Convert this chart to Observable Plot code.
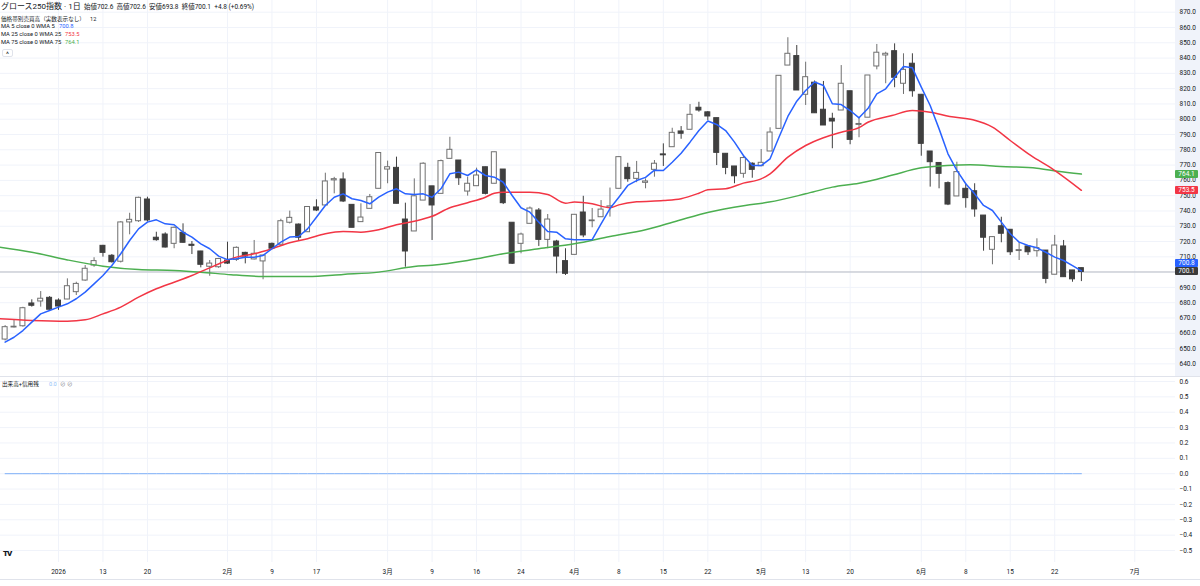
<!DOCTYPE html>
<html lang="ja">
<head>
<meta charset="utf-8">
<script src="https://cdn.jsdelivr.net/npm/d3@7"></script>
<script src="https://cdn.jsdelivr.net/npm/@observablehq/plot@0.6"></script>
<style>
  html,body{margin:0;padding:0;background:#fff;}
  body{font-family:Roboto,"Noto Sans CJK JP","Noto Sans",sans-serif;color:#131722;}
  #wrap{position:relative;width:1200px;height:586px;overflow:hidden;background:#fff;}
  #top{position:absolute;left:0;top:0;width:1200px;height:376px;overflow:hidden;background:linear-gradient(to right,#ffffff 1175px,#f0f3fa 1175px);}
  #sep{position:absolute;left:0;top:376px;width:1200px;height:1px;background:#e0e3eb;}
  #bottom{position:absolute;left:0;top:377px;width:1200px;height:209px;overflow:hidden;}
  #tline{position:absolute;left:0;top:579px;width:1200px;height:1px;background:#e0e3eb;}
  .t{position:absolute;white-space:pre;line-height:1;}
  .box{position:absolute;left:1175px;width:23px;height:8px;line-height:8px;font-size:6.5px;color:#fff;text-align:center;border-radius:1px;}
</style>
</head>
<body>
<div id="wrap">
  <div id="top"></div>
  <div id="sep"></div>
  <div id="bottom"></div>
  <div id="tline"></div>
  <div id="overlay"></div>
</div>
<script>
// ---- data ----
const dates = [
  "2025-12-23","2025-12-24","2025-12-25","2025-12-26","2025-12-29","2025-12-30",
  "2026-01-05","2026-01-06","2026-01-07","2026-01-08","2026-01-09","2026-01-13","2026-01-14","2026-01-15","2026-01-16","2026-01-19","2026-01-20","2026-01-21","2026-01-22","2026-01-23","2026-01-26","2026-01-27","2026-01-28","2026-01-29","2026-01-30",
  "2026-02-02","2026-02-03","2026-02-04","2026-02-05","2026-02-06","2026-02-09","2026-02-10","2026-02-12","2026-02-13","2026-02-16","2026-02-17","2026-02-18","2026-02-19","2026-02-20","2026-02-24","2026-02-25","2026-02-26","2026-02-27",
  "2026-03-02","2026-03-03","2026-03-04","2026-03-05","2026-03-06","2026-03-09","2026-03-10","2026-03-11","2026-03-12","2026-03-13","2026-03-16","2026-03-17","2026-03-18","2026-03-19","2026-03-23","2026-03-24","2026-03-25","2026-03-26","2026-03-27","2026-03-30","2026-03-31",
  "2026-04-01","2026-04-02","2026-04-03","2026-04-06","2026-04-07","2026-04-08","2026-04-09","2026-04-10","2026-04-13","2026-04-14","2026-04-15","2026-04-16","2026-04-17","2026-04-20","2026-04-21","2026-04-22","2026-04-23","2026-04-24","2026-04-27","2026-04-28","2026-04-30",
  "2026-05-01","2026-05-07","2026-05-08","2026-05-11","2026-05-12","2026-05-13","2026-05-14","2026-05-15","2026-05-18","2026-05-19","2026-05-20","2026-05-21","2026-05-22","2026-05-25","2026-05-26","2026-05-27","2026-05-28","2026-05-29",
  "2026-06-01","2026-06-02","2026-06-03","2026-06-04","2026-06-05","2026-06-08","2026-06-09","2026-06-10","2026-06-11","2026-06-12","2026-06-15","2026-06-16","2026-06-17","2026-06-18","2026-06-19","2026-06-22","2026-06-23","2026-06-24","2026-06-25"
];
const open = [
  655.9,663.8,664.6,679.5,680.8,683.2,
  681.4,682.1,686.9,694.5,704.3,717.2,710.7,706.8,732.5,733.3,747.5,722.5,724.6,718.5,725.7,717.9,713.5,703.5,703.2,
  707.6,708.0,712.6,708.3,707.0,718.5,717.9,732.3,731.1,726.1,742.3,743.6,760.0,760.6,744.0,732.7,741.4,754.5,
  767.1,768.2,734.4,726.6,746.8,756.1,751.2,774.1,773.0,752.7,756.2,768.6,757.8,767.1,732.3,718.5,731.6,740.3,721.1,720.0,707.2,
  711.3,739.0,733.3,735.9,742.1,754.5,768.2,761.0,758.4,766.9,777.0,781.7,792.0,793.1,807.5,804.5,800.7,777.4,769.1,764.3,770.9,
  769.3,778.9,793.7,835.1,841.3,816.0,823.9,806.2,800.3,805.7,818.3,796.3,801.0,834.5,841.7,844.5,823.2,836.3,
  816.0,778.9,771.4,758.2,749.5,754.5,752.9,737.0,714.6,730.0,727.7,713.8,716.8,713.7,714.1,698.3,716.8,701.1,702.6
];
const high = [
  665.0,668.8,677.0,681.9,687.3,684.0,
  682.5,695.6,693.4,704.3,709.4,717.5,711.5,733.0,738.5,749.0,749.0,726.1,725.7,729.5,731.6,720.0,713.6,707.6,709.0,
  719.6,716.5,713.0,720.7,711.0,719.0,734.6,739.9,731.5,742.6,747.3,764.7,762.0,764.9,744.0,744.7,750.8,777.9,
  772.6,775.2,745.1,761.0,771.5,756.1,773.3,788.2,773.0,762.1,768.0,768.6,778.4,767.1,732.3,725.5,742.6,741.6,737.7,720.8,715.3,
  737.5,749.6,741.6,746.8,755.0,775.6,771.2,772.4,761.0,773.0,783.9,794.1,795.2,809.6,811.1,805.0,800.7,777.4,769.1,775.6,771.5,
  780.2,794.4,828.4,853.3,848.2,837.3,825.0,824.7,803.9,835.1,818.3,801.0,828.6,848.9,843.8,849.3,842.8,842.8,
  816.0,778.9,771.4,759.0,771.9,757.8,757.8,737.0,723.0,735.9,727.7,719.2,717.0,721.8,714.1,724.0,720.7,701.1,702.6
];
const low = [
  655.0,663.5,664.0,677.1,677.1,674.6,
  675.0,682.0,684.7,694.0,703.2,709.8,705.9,706.0,724.4,732.5,732.7,720.2,715.8,715.3,719.0,711.5,702.8,697.3,702.5,
  705.0,707.0,705.4,708.0,695.0,715.0,717.9,731.5,720.7,726.0,739.6,743.6,751.2,745.5,729.0,732.7,741.4,754.5,
  757.8,744.7,703.2,726.6,746.8,720.7,751.2,774.1,756.7,749.7,756.2,750.5,757.8,744.2,705.0,712.0,731.6,716.8,715.3,698.9,697.8,
  711.3,722.5,729.0,735.9,736.0,754.5,758.8,758.5,754.5,762.1,769.1,781.7,786.9,793.1,804.6,799.2,769.7,763.7,757.8,761.4,761.4,
  769.0,778.9,793.7,835.1,818.8,809.0,803.9,795.9,780.7,805.7,783.3,787.9,801.0,832.3,823.2,820.6,816.2,814.4,
  775.8,755.6,754.5,743.5,749.5,741.8,735.9,713.7,704.8,719.2,710.9,707.6,710.9,709.8,692.4,698.3,696.7,693.4,693.8
];
const close = [
  664.0,664.3,676.4,678.0,682.6,675.4,
  677.5,690.8,692.3,702.2,707.2,712.6,706.5,732.5,734.2,748.6,733.8,720.9,716.1,729.0,719.2,717.2,704.8,705.6,708.6,
  705.6,715.9,710.2,712.0,710.9,715.3,733.3,735.5,722.5,742.6,740.3,759.3,760.8,746.2,729.0,735.7,749.0,777.9,
  768.6,744.7,713.5,749.6,770.9,743.6,772.6,780.0,761.4,757.8,763.2,751.2,778.4,745.1,705.5,724.6,741.6,721.1,734.4,710.2,698.9,
  737.5,724.0,733.8,740.9,743.0,775.2,760.8,764.9,759.3,770.9,776.4,791.1,790.5,802.9,805.7,801.8,778.0,768.2,762.7,774.6,766.9,
  771.5,791.3,828.4,842.8,818.8,827.5,803.9,795.9,798.5,823.2,786.5,796.9,828.6,843.5,842.8,827.1,832.3,818.3,
  783.9,771.9,764.3,744.2,765.4,748.4,741.0,722.5,722.9,725.1,713.0,714.4,713.0,715.7,695.6,717.4,696.7,695.3,700.1
];
// MA 5 (WMA) read at every session
const ma5 = [
  654.2,657.4,661.8,667.3,672.7,674.9,
  677.1,679.3,682.6,686.9,692.3,697.8,704.3,712.0,720.7,728.3,732.7,734.2,731.6,731.0,726.1,722.9,718.5,715.3,710.5,
  708.2,708.7,709.8,709.8,710.9,715.3,719.6,722.9,723.3,728.3,735.9,743.6,749.0,751.2,748.0,746.8,744.7,749.0,
  752.3,754.5,751.2,750.8,751.2,749.0,754.5,764.3,765.4,763.2,766.9,763.2,762.1,758.8,750.1,742.1,739.2,732.7,726.6,726.1,721.8,
  721.1,721.1,721.3,731.6,741.6,749.0,756.7,759.9,762.0,766.7,766.5,771.9,777.8,785.0,792.6,798.8,796.6,792.6,785.0,776.3,769.7,
  769.7,774.1,788.2,801.8,811.8,818.8,824.3,822.1,810.1,809.6,805.7,800.9,807.0,816.6,819.9,827.5,834.5,833.6,
  821.0,809.0,793.7,777.4,766.5,757.8,751.2,743.6,740.3,732.7,725.1,719.6,717.4,715.9,713.0,709.8,707.6,704.3,700.8
];
// MA 25 (WMA) read at sampled session positions
const ma25At = [-0.6,3,7,9,11,13,15,17,19,21,23,24,26,28,30,32,34,36,38,40,42,44,46,48,50,52,54,55,56,57,59,61,63,64,66,68,69,71,74,76,78,79,81,83,85,86,88,90,92,94,96,97,99.7,102,104,106.2,108.8,111,113,115.3,117.9,121];
const ma25   = [669.5,668.4,667.9,668.8,672.7,677.1,683.6,689.1,693.4,697.8,702.8,705.3,709.8,712.0,715.3,719.2,721.8,725.1,726.6,726.1,727.7,731.0,733.3,736.5,742.1,745.4,749.0,751.6,752.3,752.3,752.3,750.8,745.1,745.8,744.7,742.1,744.0,746.0,746.8,748.0,751.6,753.8,754.5,758.2,761.0,764.3,775.2,782.8,787.9,791.5,794.5,798.0,802.4,805.7,804.6,801.8,799.6,794.8,786.1,776.3,766.9,753.5];
// MA 75 (WMA) read at sampled session positions
const ma75At = [-0.6,3,7,11,15,19,22,25.4,29,34,38,42,46,48,52,56,60,64,68,72,75.7,79.1,83.2,85.9,90,93,96,97.8,99.9,103,105.9,108.5,111.9,116,118.3,121];
const ma75   = [716.3,713.0,708.0,703.9,701.7,701.1,700.0,698.3,697.2,697.2,698.5,700.0,703.7,704.5,707.6,712.0,715.3,718.5,723.3,727.7,733.8,739.2,743.6,745.8,751.2,755.6,758.2,760.4,763.7,768.2,769.7,770.2,769.1,768.0,766.0,764.1];
// 出来高+信用残: shown as 0.0 for every session
const volCredit = dates.map(() => 0.0);

const priceTicks = [640,650,660,670,680,690,700,710,720,730,740,750,760,770,780,790,800,810,820,830,840,850,860,870];
const subTicks = [0.6,0.5,0.4,0.3,0.2,0.1,0.0,-0.1,-0.2,-0.3,-0.4,-0.5];
const xTickAt = [6,11,16,25,30,35,43,48,53,58,64,69,74,79,85,90,95,103,108,113,118,127];
const xTickLabels = ["2026","13","20","2月","9","17","3月","9","16","24","4月","8","15","22","5月","13","20","6月","8","15","22","7月"];

const maLast = {ma5: 700.8, ma25: 753.5, ma75: 764.1};

// ---- build ----
const candles = dates.map((d, i) => ({i, date: d, o: open[i], h: high[i], l: low[i], c: close[i], up: close[i] >= open[i]}));
const lastClose = close[close.length - 1];
const UP_STROKE = "#707070", DOWN = "#3f3f3f";
const BLUE = "#2962ff", RED = "#f23645", GREEN = "#4caf50";
const xDomain = [-0.52, 131.58];
const FONT = 'Roboto,"Noto Sans CJK JP",sans-serif';

const topPlot = Plot.plot({
  width: 1200, height: 376,
  marginLeft: 0, marginRight: 25, marginTop: 0, marginBottom: 0,
  style: {background: "transparent", fontFamily: FONT, fontSize: "6.5px", color: "#131722", overflow: "hidden"},
  x: {domain: xDomain, axis: null},
  y: {domain: [631.74, 877.65], axis: null},
  marks: [
    Plot.gridY({ticks: priceTicks, stroke: "#f0f3fa", strokeOpacity: 1}),
    Plot.gridX({ticks: xTickAt, stroke: "#f0f3fa", strokeOpacity: 1}),
    Plot.axisY({ticks: priceTicks, anchor: "right", tickSize: 0, tickPadding: 4, tickFormat: d => d.toFixed(1), label: null}),
    Plot.ruleY([lastClose], {stroke: "#b8bbc4", strokeWidth: 1}),
    Plot.ruleX(candles, {x: "i", y1: "l", y2: "h", stroke: d => d.up ? UP_STROKE : DOWN, strokeWidth: 1}),
    Plot.rect(candles, {x1: d => d.i - 0.28, x2: d => d.i + 0.28, y1: "o", y2: "c",
      fill: d => d.up ? "#ffffff" : DOWN, stroke: d => d.up ? UP_STROKE : DOWN, strokeWidth: 1}),
    Plot.line(ma75At.map((x, k) => ({x, y: ma75[k]})), {x: "x", y: "y", stroke: GREEN, strokeWidth: 1.5, curve: "monotone-x", clip: true}),
    Plot.line(ma25At.map((x, k) => ({x, y: ma25[k]})), {x: "x", y: "y", stroke: RED, strokeWidth: 1.5, curve: "monotone-x", clip: true}),
    Plot.line(candles, {x: "i", y: d => ma5[d.i], stroke: BLUE, strokeWidth: 1.5, clip: true})
  ]
});
document.getElementById("top").appendChild(topPlot);

const bottomPlot = Plot.plot({
  width: 1200, height: 209,
  marginLeft: 0, marginRight: 25, marginTop: 0, marginBottom: 24,
  style: {background: "transparent", fontFamily: FONT, fontSize: "6.5px", color: "#131722", overflow: "hidden"},
  x: {domain: xDomain, axis: null},
  y: {domain: [-0.578, 0.626], axis: null},
  marks: [
    Plot.gridY({ticks: subTicks, stroke: "#f0f3fa", strokeOpacity: 1}),
    Plot.gridX({ticks: xTickAt, stroke: "#f0f3fa", strokeOpacity: 1}),
    Plot.axisY({ticks: subTicks, anchor: "right", tickSize: 0, tickPadding: 4, label: null,
      tickFormat: d => (d < -1e-9 ? "\u2212" + (-d).toFixed(1) : Math.abs(d).toFixed(1))}),
    Plot.axisX({ticks: xTickAt, anchor: "bottom", tickSize: 0, tickPadding: 7, label: null,
      tickFormat: d => xTickLabels[xTickAt.indexOf(d)]}),
    Plot.line(candles, {x: "i", y: d => volCredit[d.i], stroke: "#7fb0f7", strokeWidth: 1})
  ]
});
document.getElementById("bottom").appendChild(bottomPlot);

// ---- overlay: legends and price labels ----
const ov = document.getElementById("overlay");
function addText(html, left, top, size, color, extra) {
  const el = document.createElement("div");
  el.className = "t";
  el.style.left = left + "px";
  el.style.top = top + "px";
  el.style.fontSize = size + "px";
  el.style.color = color || "#131722";
  if (extra) Object.assign(el.style, extra);
  el.innerHTML = html;
  ov.appendChild(el);
  return el;
}
addText("グロース250指数 · 1日", 1, 3.3, 8, "#131722");
addText("始値702.6&nbsp; 高値702.6&nbsp; 安値693.8&nbsp; 終値700.1&nbsp; +4.8 (+0.69%)", 84, 4.3, 6.5, "#131722");
addText("価格帯別売買高（実数表示なし）", 1, 16.5, 5.6, "#131722");
addText("12", 90, 16.5, 5.6, "#131722");
addText("MA 5 close 0 WMA 5", 1, 23.8, 5.8, "#131722");
addText(maLast.ma5.toFixed(1), 59, 23.8, 5.8, BLUE);
addText("MA 25 close 0 WMA 25", 1, 31.8, 5.8, "#131722");
addText(maLast.ma25.toFixed(1), 65, 31.8, 5.8, RED);
addText("MA 75 close 0 WMA 75", 1, 39.8, 5.8, "#131722");
addText(maLast.ma75.toFixed(1), 65, 39.8, 5.8, GREEN);
addText("^", 2, 48.5, 7, "#131722", {width: "11px", height: "8px", border: "1px solid #e0e3eb", borderRadius: "2px", textAlign: "center", lineHeight: "10px", boxSizing: "border-box"});
addText("出来高+信用残", 2, 381.5, 5.6, "#131722");
addText("0.0", 49, 381.5, 5.6, "#90bff9");
addText("⊘ ⊘", 60, 381.5, 5.6, "#6a6d78");
addText("<b>TV</b>", 3, 550, 8, "#131722", {fontWeight: "900", letterSpacing: "-1px"});

// price labels on the right scale, positioned through the plot's own y scale
const ys = topPlot.scale("y");
function addBox(value, color, centerY) {
  const el = document.createElement("div");
  el.className = "box";
  el.style.background = color;
  el.style.top = (centerY - 4) + "px";
  el.textContent = value.toFixed(1);
  ov.appendChild(el);
}
addBox(maLast.ma75, GREEN, ys.apply(maLast.ma75));
addBox(maLast.ma25, RED, ys.apply(maLast.ma25));
const yClose = ys.apply(lastClose);
addBox(maLast.ma5, BLUE, Math.min(ys.apply(maLast.ma5), yClose - 8.5));
addBox(lastClose, "#3a3a3a", yClose);
</script>
</body>
</html>
